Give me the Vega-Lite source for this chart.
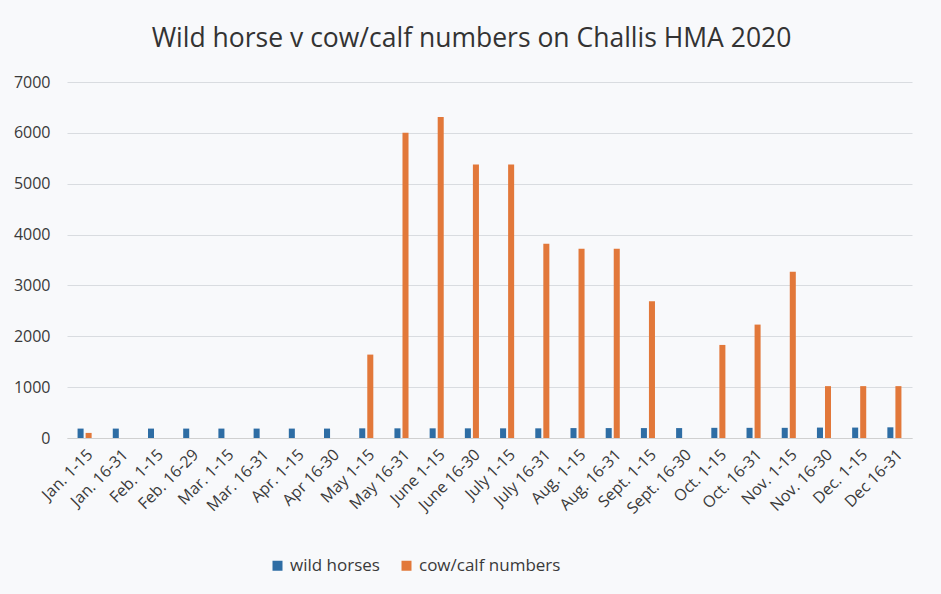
{
  "$schema": "https://vega.github.io/schema/vega-lite/v6.json",
  "autosize": "none",
  "width": 845,
  "height": 356,
  "padding": {"left": 67, "top": 82, "right": 29, "bottom": 156},
  "background": "#f8f9fb",
  "view": {"stroke": null},
  "title": {
    "text": "Wild horse v cow/calf numbers on Challis HMA 2020",
    "font": "Open Sans",
    "fontSize": 26.5,
    "fontWeight": "normal",
    "color": "#333333",
    "offset": 22,
    "dx": -18
  },
  "data": {
    "values": [
      {"period": "Jan. 1-15", "series": "wild horses", "value": 185},
      {"period": "Jan. 1-15", "series": "cow/calf numbers", "value": 100},
      {"period": "Jan. 16-31", "series": "wild horses", "value": 185},
      {"period": "Jan. 16-31", "series": "cow/calf numbers", "value": 0},
      {"period": "Feb. 1-15", "series": "wild horses", "value": 185},
      {"period": "Feb. 1-15", "series": "cow/calf numbers", "value": 0},
      {"period": "Feb. 16-29", "series": "wild horses", "value": 185},
      {"period": "Feb. 16-29", "series": "cow/calf numbers", "value": 0},
      {"period": "Mar. 1-15", "series": "wild horses", "value": 185},
      {"period": "Mar. 1-15", "series": "cow/calf numbers", "value": 0},
      {"period": "Mar. 16-31", "series": "wild horses", "value": 185},
      {"period": "Mar. 16-31", "series": "cow/calf numbers", "value": 0},
      {"period": "Apr. 1-15", "series": "wild horses", "value": 185},
      {"period": "Apr. 1-15", "series": "cow/calf numbers", "value": 0},
      {"period": "Apr 16-30", "series": "wild horses", "value": 185},
      {"period": "Apr 16-30", "series": "cow/calf numbers", "value": 0},
      {"period": "May 1-15", "series": "wild horses", "value": 190},
      {"period": "May 1-15", "series": "cow/calf numbers", "value": 1640},
      {"period": "May 16-31", "series": "wild horses", "value": 190},
      {"period": "May 16-31", "series": "cow/calf numbers", "value": 6000},
      {"period": "June 1-15", "series": "wild horses", "value": 190},
      {"period": "June 1-15", "series": "cow/calf numbers", "value": 6310},
      {"period": "June 16-30", "series": "wild horses", "value": 190},
      {"period": "June 16-30", "series": "cow/calf numbers", "value": 5380},
      {"period": "July 1-15", "series": "wild horses", "value": 190},
      {"period": "July 1-15", "series": "cow/calf numbers", "value": 5380},
      {"period": "July 16-31", "series": "wild horses", "value": 190},
      {"period": "July 16-31", "series": "cow/calf numbers", "value": 3820},
      {"period": "Aug. 1-15", "series": "wild horses", "value": 195},
      {"period": "Aug. 1-15", "series": "cow/calf numbers", "value": 3720},
      {"period": "Aug. 16-31", "series": "wild horses", "value": 195},
      {"period": "Aug. 16-31", "series": "cow/calf numbers", "value": 3720},
      {"period": "Sept. 1-15", "series": "wild horses", "value": 195},
      {"period": "Sept. 1-15", "series": "cow/calf numbers", "value": 2690},
      {"period": "Sept. 16-30", "series": "wild horses", "value": 195},
      {"period": "Sept. 16-30", "series": "cow/calf numbers", "value": 0},
      {"period": "Oct. 1-15", "series": "wild horses", "value": 200},
      {"period": "Oct. 1-15", "series": "cow/calf numbers", "value": 1830},
      {"period": "Oct. 16-31", "series": "wild horses", "value": 200},
      {"period": "Oct. 16-31", "series": "cow/calf numbers", "value": 2230},
      {"period": "Nov. 1-15", "series": "wild horses", "value": 200},
      {"period": "Nov. 1-15", "series": "cow/calf numbers", "value": 3270},
      {"period": "Nov. 16-30", "series": "wild horses", "value": 205},
      {"period": "Nov. 16-30", "series": "cow/calf numbers", "value": 1020},
      {"period": "Dec. 1-15", "series": "wild horses", "value": 205},
      {"period": "Dec. 1-15", "series": "cow/calf numbers", "value": 1020},
      {"period": "Dec 16-31", "series": "wild horses", "value": 210},
      {"period": "Dec 16-31", "series": "cow/calf numbers", "value": 1020}
    ]
  },
  "mark": {"type": "bar"},
  "encoding": {
    "x": {
      "field": "period",
      "type": "nominal",
      "sort": null,
      "title": null,
      "scale": {"paddingInner": 0.6, "paddingOuter": 0.3},
      "axis": {
        "labelAngle": -45,
        "labelFont": "Open Sans",
        "labelFontSize": 16,
        "labelColor": "#3a3a3a",
        "labelPadding": 8,
        "ticks": false,
        "domainColor": "#d0d0d0"
      }
    },
    "xOffset": {
      "field": "series",
      "type": "nominal",
      "sort": ["wild horses", "cow/calf numbers"],
      "scale": {"paddingInner": 0.25}
    },
    "y": {
      "field": "value",
      "type": "quantitative",
      "title": null,
      "scale": {"domain": [0, 7000]},
      "axis": {
        "values": [0, 1000, 2000, 3000, 4000, 5000, 6000, 7000],
        "format": "d",
        "labelFont": "Open Sans",
        "labelFontSize": 16,
        "labelColor": "#3a3a3a",
        "labelPadding": 17,
        "ticks": false,
        "domain": false,
        "gridColor": "#d9dce0"
      }
    },
    "color": {
      "field": "series",
      "type": "nominal",
      "sort": ["wild horses", "cow/calf numbers"],
      "scale": {"domain": ["wild horses", "cow/calf numbers"], "range": ["#2e6da4", "#e2783a"]},
      "legend": {
        "title": null,
        "orient": "none",
        "direction": "horizontal",
        "legendX": 202,
        "legendY": 475,
        "symbolType": "square",
        "symbolSize": 100,
        "symbolStrokeWidth": 0,
        "labelFont": "Open Sans",
        "labelFontSize": 17,
        "labelColor": "#3a3a3a",
        "columnPadding": 18
      }
    }
  }
}
